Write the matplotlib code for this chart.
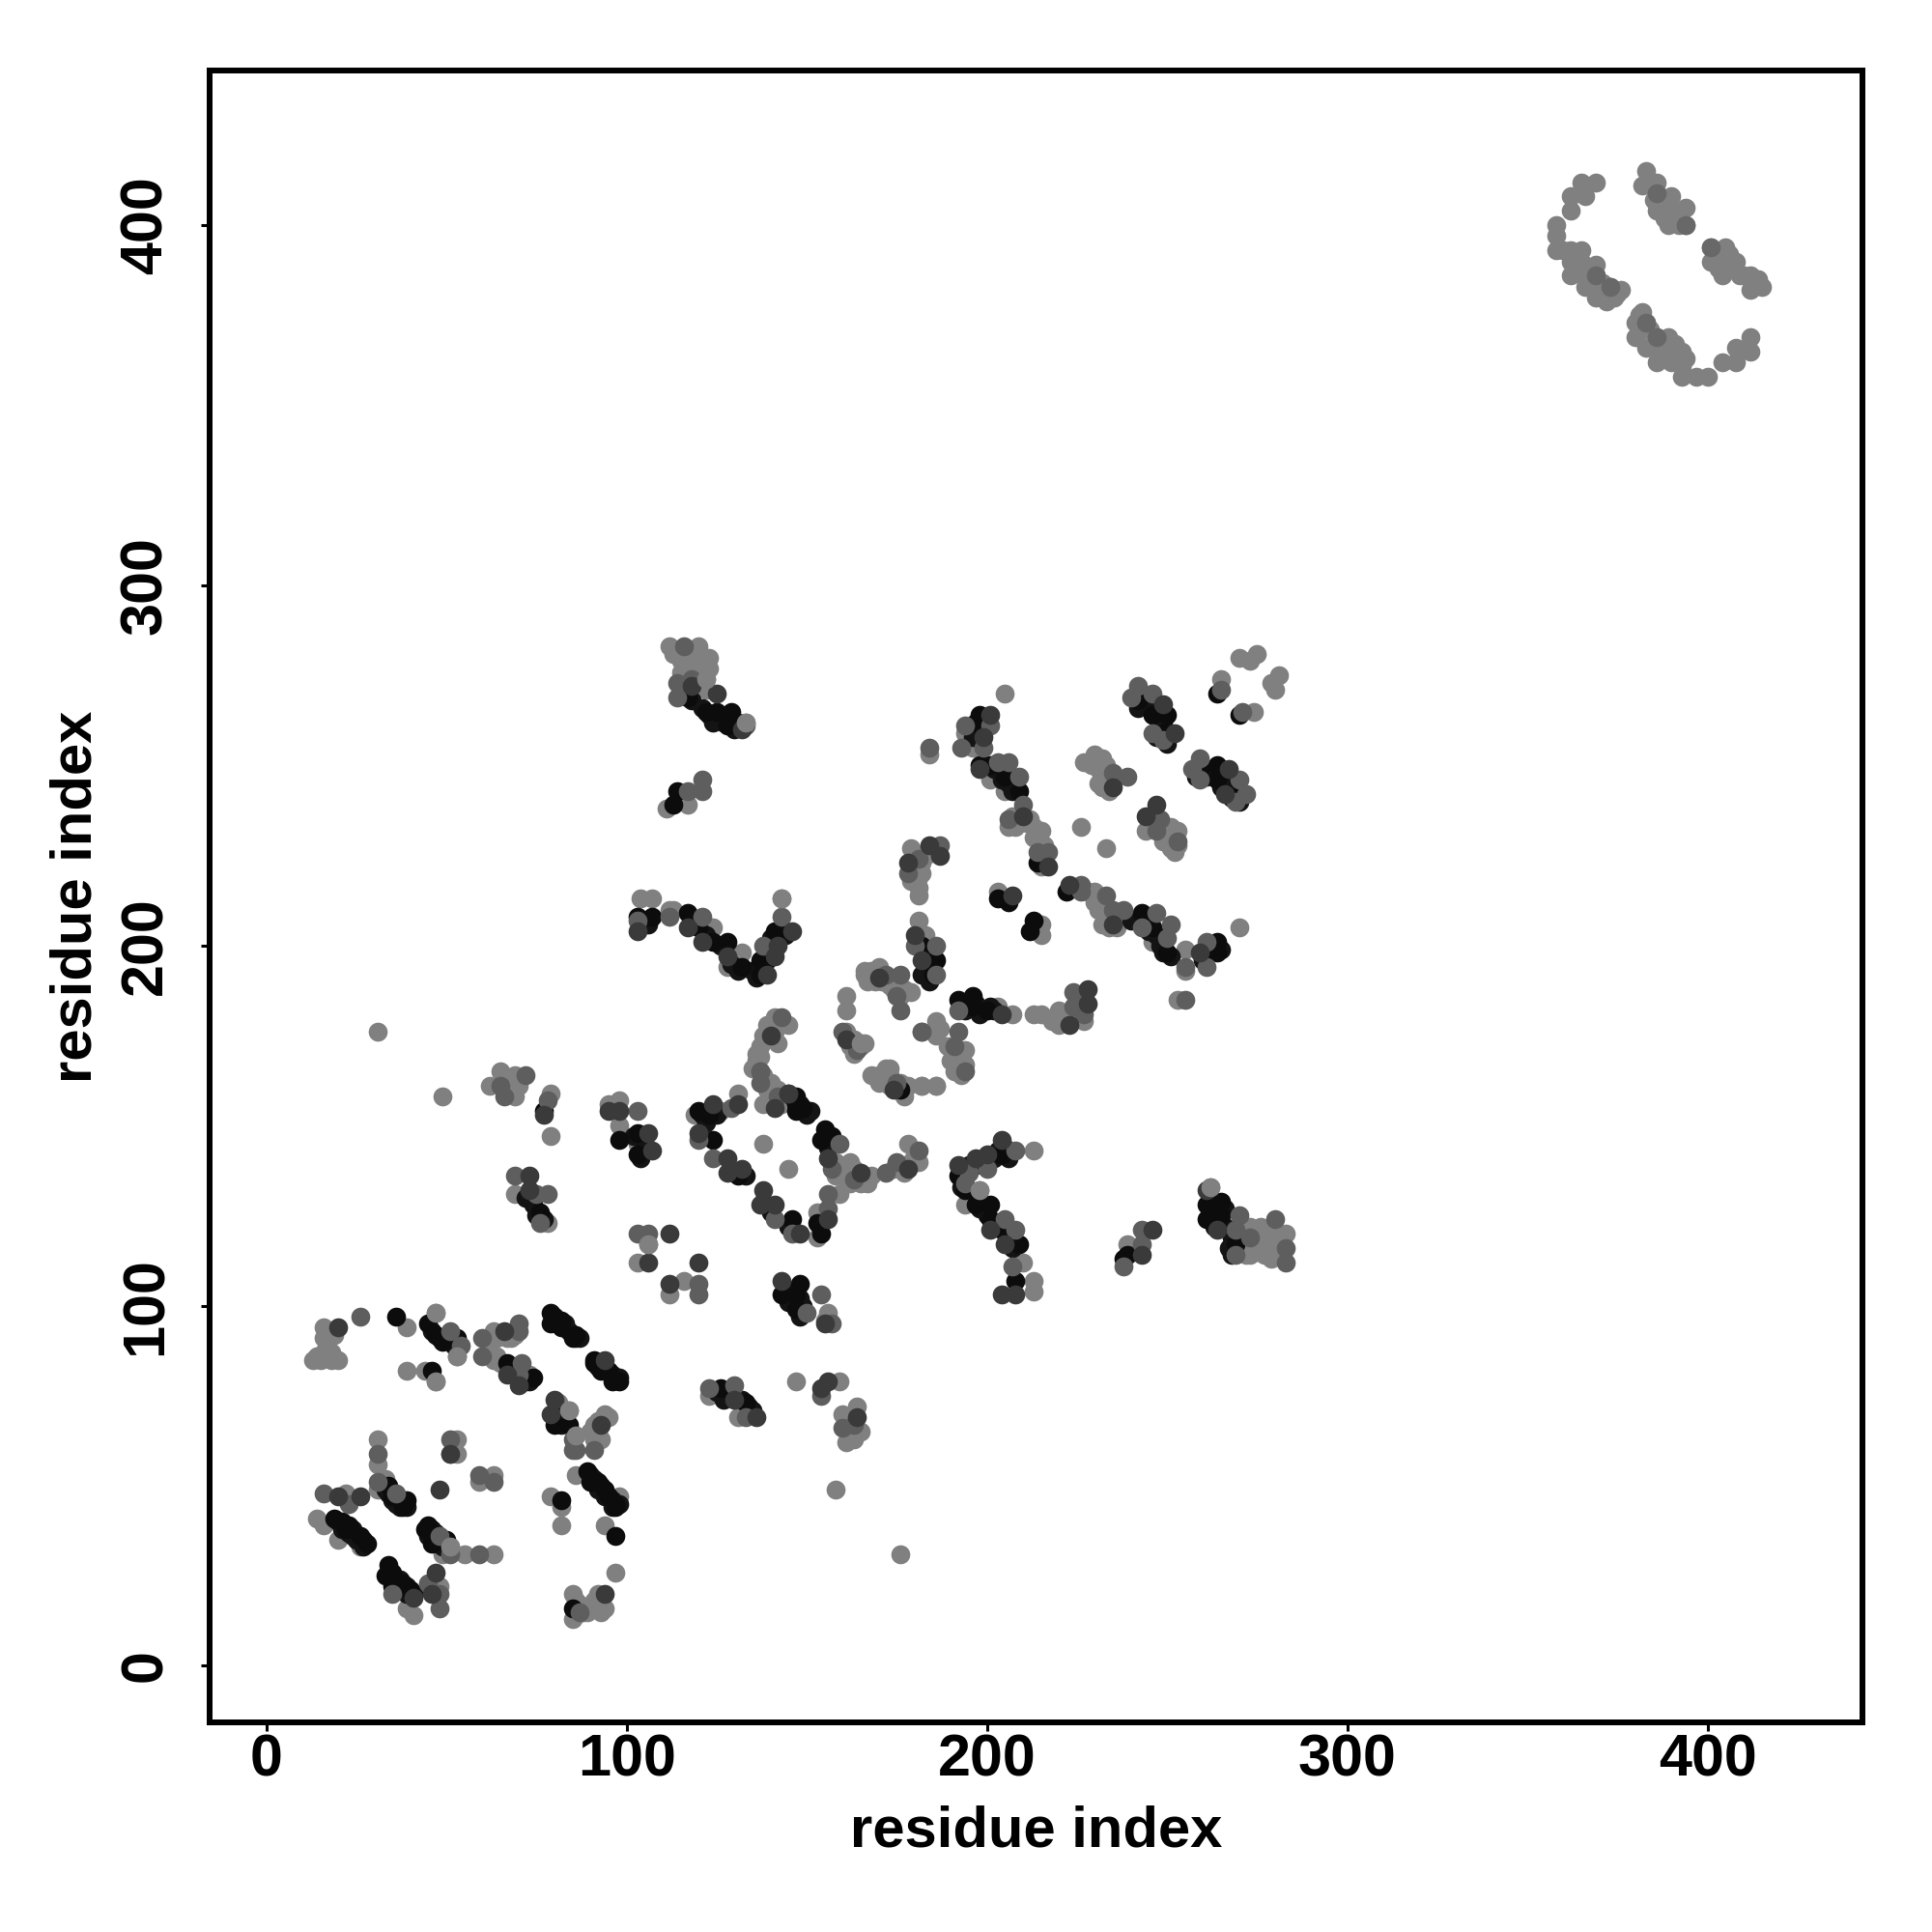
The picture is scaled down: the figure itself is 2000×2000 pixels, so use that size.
import numpy as np
import matplotlib
matplotlib.use('Agg')
import matplotlib.pyplot as plt

plt.rcParams['font.family'] = ['Liberation Sans', 'DejaVu Sans']

# contact points, grouped by how dark the dot is
dark = [(46,82),(36,97),(45,95),(47,92),(49,90),(53,91),(67,84),(74,80),(79,98),(79,95),(82,96),(82,94),(85,91),(86,92),
    (91,85),(91,84),(95,82),(93,82),(98,79),(96,79),(80,67),(84,67),(89,54),(90,51),(92,51),(94,49),(95,47),(97,45),(97,44),
    (82,46),(97,36),(85,16),(34,50),(35,47),(39,46),(38,44),(19,41),(21,40),(22,38),(23,39),(26,36),(28,34),(45,39),(44,38),
    (50,35),(46,34),(34,28),(35,26),(33,25),(38,23),(35,22),(40,21),
    (117,269),(122,265),(125,265),(129,265),(128,261),(114,243),(113,239),(107,208),(103,208),(117,209),(120,205),(124,201),(128,201),
    (132,194),(137,196),(137,192),(141,204),(143,204),(182,200),(186,196),(185,192),(147,158),(146,158),(147,156),(149,155),(147,154),
    (77,154),(98,146),(103,148),(103,142),(76,126),(148,106),(143,103),(147,103),(147,99),(120,154),(123,153),(124,146),(131,136),
    (146,124),(153,123),(154,120),(155,149),(154,146),(157,147),(204,142),(192,136),(194,132),(197,128),(201,128),(201,124),(204,121),
    (209,117),(208,107),(239,114),(238,113),(261,128),(265,129),(265,125),(261,124),(269,117),
    (126,77),(133,73),(198,264),(197,262),(198,250),(201,250),(205,247),(209,243),(214,223),(242,268),(250,264),(246,264),(249,259),
    (264,270),(270,264),(259,249),(264,250),(264,246),(268,242),(222,215),(243,209),(246,205),(250,198),(261,198),(264,198),(264,201),
    (203,213),(206,212),(213,207),(212,204),(192,185),(196,186),(196,183),(200,182),(176,160)]

dark_mid = [(20,94),(67,81),(70,78),(66,93),(94,85),(80,74),(79,70),(93,67),(94,20),(51,59),(20,47),(26,47),(47,26),(46,20),
    (48,49),(41,19),(118,272),(125,270),(132,260),(117,205),(103,204),(121,201),(128,197),(139,192),(141,197),(142,200),(146,204),
    (184,228),(187,225),(178,223),(180,203),(182,196),(170,191),(161,174),(140,175),(145,159),
    (77,153),(95,154),(98,154),(106,148),(107,143),(73,136),(73,132),(112,120),(106,112),(120,112),(112,106),(143,107),(155,95),
    (124,156),(131,156),(120,148),(128,141),(128,137),(132,138),(138,132),(137,128),(141,128),(148,120),(156,124),(156,141),(165,137),
    (178,138),(141,155),(145,159),(174,160),(204,146),(200,142),(197,141),(192,139),(201,121),(205,117),(204,103),(208,103),(246,121),
    (243,114),(261,132),(264,121),(130,74),(136,69),(154,77),(156,79),(164,69),
    (201,264),(199,258),(198,249),(210,236),(217,222),(235,244),(249,267),(252,259),(267,249),(266,242),(247,239),(244,236),
    (223,217),(235,206),(259,198),(207,214),(204,181),(228,188),(228,184),(223,178)]

mid = [(26,97),(60,91),(53,86),(70,95),(70,93),(60,86),(71,84),(70,81),(51,93),(54,89),(85,60),(91,60),(87,15),(31,59),(31,51),
    (36,48),(51,63),(59,53),(63,51),(16,48),(23,45),(48,36),(51,31),(59,31),(35,20),(45,23),(48,20),(48,16),(85,63),(86,60),
    (116,283),(114,273),(118,274),(114,269),(121,246),(121,243),(117,243),(133,261),(103,207),(112,208),(121,208),(138,200),(143,208),
    (187,228),(181,224),(178,220),(186,200),(180,200),(186,192),(172,192),(176,192),(175,186),(176,182),(160,176),(164,171),(182,176),
    (143,180),(137,165),(137,162),(66,158),(72,164),(65,161),
    (78,157),(103,154),(106,120),(103,120),(69,136),(75,131),(78,131),(76,123),(120,106),(120,103),(154,103),(150,98),(157,95),
    (129,155),(120,146),(124,141),(141,124),(146,120),(156,131),(156,127),(159,145),(157,138),(163,135),(172,137),(175,140),(181,143),
    (137,165),(142,158),(208,143),(200,138),(195,137),(194,134),(205,124),(208,121),(207,111),(243,121),(243,117),(238,111),(270,125),
    (269,121),(269,114),(273,119),(280,124),(283,116),(283,112),(123,77),(130,78),(133,69),(154,75),(160,66),(163,67),
    (184,255),(194,261),(201,261),(193,255),(199,255),(206,251),(203,251),(209,247),(210,239),(206,235),(214,226),(217,226),(235,248),
    (239,247),(242,272),(240,269),(246,270),(246,259),(249,257),(265,271),(271,265),(259,252),(257,249),(259,246),(270,246),(269,240),
    (272,242),(248,235),(247,232),(253,229),(226,217),(226,215),(233,214),(235,210),(238,210),(247,209),(243,205),(251,206),(250,202),
    (255,194),(261,201),(261,194),(255,185),(192,182),(182,176),(192,176),(191,172),(194,165),(224,187),(227,181),(224,183),(175,162)]

light = [(365,412),(369,412),(362,408),(366,408),(362,404),(358,400),(358,397),(358,393),(362,393),(365,393),(362,390),(365,390),
    (362,386),(366,386),(369,389),(369,386),(366,383),(369,383),(369,380),(373,383),(373,380),(376,382),(374,380),
    (383,415),(382,411),(386,412),(386,409),(386,404),(390,408),(390,404),(389,400),(394,405),(394,400),(391,403),
    (401,394),(401,390),(405,394),(404,390),(404,386),(408,390),(409,386),(412,386),(412,382),(415,383),
    (382,376),(380,373),(383,373),(380,369),(383,366),(386,369),(389,369),(386,362),(390,362),(387,366),(393,365),(393,361),
    (393,358),(397,358),(400,358),(404,362),(408,362),(408,366),(412,365),(412,369),
    (363,392),(364,388),(367,388),(368,385),(371,384),(371,381),(372,382),(375,381),(372,379),(381,375),(382,371),(384,371),(381,372),
    (385,367),(388,367),(388,364),(391,364),(391,367),(394,363),(392,362),(384,412),(385,407),(388,406),(392,403),(392,400),(388,402),
    (403,392),(403,388),(406,392),(407,388),(410,386),(413,384),(414,385),(360,393),
    (16,94),(16,91),(13,85),(16,87),(15,85),(20,85),(39,94),(39,82),(44,82),(47,79),(47,98),(63,93),(64,91),(67,91),(63,85),(64,86),
    (73,81),(81,73),(84,71),(86,64),(91,63),(94,70),(91,67),(93,63),(86,53),(79,47),(98,47),(82,44),(82,39),(94,39),(97,26),
    (85,20),(92,20),(94,16),(90,16),(85,13),(87,17),(31,63),(31,56),(31,49),(33,52),(53,63),(51,59),(63,53),(59,51),(22,48),
    (14,41),(16,39),(20,35),(26,33),(51,33),(49,31),(55,31),(63,31),(39,16),(41,14),(48,22),(53,59),
    (112,283),(120,283),(123,280),(115,279),(118,279),(122,276),(115,276),(122,274),(122,271),(133,262),(117,239),(111,238),
    (104,213),(107,213),(112,210),(113,210),(124,205),(132,198),(128,194),(143,213),
    (179,227),(183,225),(182,220),(181,216),(181,214),(181,207),(183,203),(183,192),(166,193),(166,192),(170,194),(179,187),(175,188),
    (161,186),(161,182),(161,176),(165,173),(165,172),(141,180),(145,178),(139,178),(137,172),(136,168),(135,166),(140,162),(141,158),
    (65,165),(69,164),(62,161),(70,161),(69,158),(79,159),(79,147),(95,156),(98,157),(98,150),(103,145),(69,131),(78,123),(106,117),
    (103,112),(116,107),(112,103),(144,104),(156,98),(119,153),(126,154),(131,159),(138,145),(145,138),(153,119),(153,126),(159,131),
    (162,140),(161,137),(167,135),(178,145),(181,140),(140,162),(138,156),(173,166),(170,164),(177,158),(176,162),(182,161),(186,161),
    (193,166),(193,164),(213,143),(198,132),(194,128),(210,112),(213,107),(213,104),(239,117),(262,133),(273,122),(276,122),(283,120),
    (277,117),(273,114),(277,114),(280,117),(278,115),(31,176),(49,158),(176,31),(158,49),(147,79),(123,75),(131,69),(159,79),
    (160,70),(164,72),(165,65),(161,62),(205,270),(184,253),(196,255),(194,259),(201,246),(205,243),(206,233),(212,235),(215,232),
    (213,233),(215,222),(226,233),(233,227),(227,251),(230,253),(232,252),(233,250),(232,244),(233,247),(246,267),(246,264),
    (265,274),(274,265),(280,271),(279,273),(281,275),(270,280),(275,281),(273,279),(268,245),(244,232),(251,233),(253,232),(251,227),
    (253,228),(230,215),(233,211),(232,206),(246,201),(255,199),(255,193),(270,205),(253,185),(203,215),(215,206),(215,203),(203,183),
    (207,181),(213,181),(215,181),(220,182),(220,178),(227,179),(186,179),(186,175),(194,171),(194,167),(191,165),(172,166),(171,164),
    (178,161),(182,161),(186,161),
    (113,281),(117,281),(119,281),(118,276),(120,277),(116,272),(120,273),(123,277),
    (272,120),(274,117),(275,115),(278,120),(279,119),(281,119),(281,115),(282,118),(274,120),(276,119),(279,113),(271,116),(272,114),
    (14,86),(17,90),(18,87),(18,85),(17,93),(19,92),
    (167,190),(168,193),(169,190),(171,190),(173,189),(174,188),(177,188),(176,186),(162,172),(163,174),(163,170),(166,173),
    (192,170),(193,168),(192,167),(190,168),(189,172),(187,177),(168,164),(170,162),(173,161),(175,160),(173,164),
    (138,175),(141,176),(142,173),(136,170),(137,169),(138,164),(139,160),(142,160),(143,156),(144,158),
    (158,140),(160,136),(162,134),(165,134),(167,134),(168,136),(163,138),(158,136),(174,138),(176,139),(179,140),(177,137),(180,142),
    (179,218),(181,219),(182,223),(180,222),(211,234),(213,230),(216,228),(215,226),(207,236),(208,233),
    (229,250),(231,249),(234,246),(231,245),(234,243),(246,234),(249,233),(250,231),(252,230),(249,229),(252,226),
    (228,215),(230,212),(231,210),(234,208),(237,208),(234,205),(236,205),(218,179),(221,181),(225,183),(226,186),(226,180),
    (86,18),(88,15),(89,15),(91,18),(92,17),(93,15),(86,14),(90,65),(92,65),(92,68),(95,69),
    (62,90),(65,92),(68,91),(69,92),(62,86),(65,84),(156,97),(155,96),(161,68),(162,65),(163,63),(163,70)]

# more dark dots along the contact diagonals
dark_diag = [(46,93),(48,91),(50,91),(52,90),(52,89),(80,97),(81,95),(83,95),(84,93),(86,91),(87,91),(92,83),(93,84),(94,83),(96,81),
    (97,80),(98,80),(90,53),(91,52),(92,49),(93,50),(94,47),(96,46),(96,44),(98,45),(33,49),(34,48),(35,46),(36,45),(37,46),(38,46),
    (37,44),(39,44),(20,40),(21,38),(23,37),(24,36),(25,35),(27,35),(27,33),(24,38),(46,38),(46,36),(47,37),(48,34),(49,33),(47,35),
    (45,36),(34,26),(36,24),(37,24),(37,21),(39,20),(39,22),(41,20),(35,24),(68,82),(69,83),(72,80),(72,79),(73,79),(81,69),(82,67),
    (83,68),(82,70),(118,268),(121,266),(123,264),(124,262),(126,264),(127,262),(130,260),(131,262),(128,263),(105,207),(106,206),
    (118,207),(119,206),(122,203),(126,200),(129,195),(131,193),(135,193),(136,191),(138,194),(139,196),(140,199),(140,202),(142,202),
    (144,203),(184,198),(185,196),(184,194),(182,192),(184,190),(198,262),(199,263),(196,258),(197,258),(200,250),(202,249),(204,246),
    (206,245),(208,245),(207,243),(193,137),(194,138),(195,139),(197,139),(199,140),(202,141),(203,143),(205,144),(206,141),(193,133),
    (198,127),(200,125),(202,122),(206,118),(207,116),(148,156),(150,153),(151,154),(149,154),(155,146),(156,144),(242,266),(243,270),
    (244,267),(247,266),(248,263),(249,262),(247,258),(250,256),(258,247),(261,247),(263,248),(265,248),(265,244),(267,245),(268,241),
    (270,240),(240,207),(242,207),(244,206),(245,204),(247,203),(248,200),(249,198),(251,197),(262,199),(263,200),(265,199),(260,196),
    (193,184),(194,182),(197,184),(198,181),(201,183),(202,182),(262,126),(263,124),(266,127),(263,122),(266,122),(268,119),(267,116),
    (268,114),(121,153),(122,151),(125,153),(130,137),(131,137),(133,136),(138,129),(140,126),(145,122),(146,104),(148,102),(145,101),
    (149,100),(148,97),(127,74),(128,76),(132,74),(134,72),(135,71),(125,76),(102,147),(105,146),(104,141),(105,143),(74,128),(75,125),
    (72,130),(77,124)]

# the few spots that are a bit darker inside the ring, and light dots lying on top
ring_darker = [(401,394),(394,400),(373,383),(369,386),(383,373),(386,369),(386,409)]
light_top = [(133,262),(143,213),(47,98),(262,133),(86,64),(51,33),(165,173),(122,274),(84,71),(198,132),(47,79),(53,86),(106,117)]

tick_vals = [0, 100, 200, 300, 400]

fig = plt.figure(figsize=(20, 20), dpi=100)
ax = fig.add_axes([217/2000, 217/2000, 1711/2000, 1710/2000])

# drawn back to front
groups = [(light, '#808080'), (ring_darker, '#686868'), (dark_diag, '#141414'), (dark, '#0c0c0c'),
    (mid, '#5e5e5e'), (dark_mid, '#3a3a3a'), (light_top, '#808080')]
for pts, col in groups:
    xs, ys = np.array(pts).T
    ax.scatter(xs, ys, s=200, color=col, linewidths=0, zorder=3)

ax.set_xlim(-15.7, 443)
ax.set_ylim(-15.7, 443)
ax.set_xticks(tick_vals)
ax.set_yticks(tick_vals)
ax.tick_params(axis='x', length=6.5, width=2.2, labelsize=44, pad=1.5)
ax.tick_params(axis='y', length=6.5, width=2.2, labelsize=44, pad=20)
for lab in ax.get_xticklabels() + ax.get_yticklabels():
    lab.set_fontweight('bold')
for lab in ax.get_yticklabels():
    lab.set_rotation(90)
    lab.set_va('center')
for sp in ax.spines.values():
    sp.set_linewidth(4.3)

ax.set_xlabel('residue index', fontsize=43, fontweight='bold', labelpad=12.5)
ax.set_ylabel('residue index', fontsize=43, fontweight='bold', labelpad=12)

fig.savefig('out.png', dpi=100, facecolor='white')
